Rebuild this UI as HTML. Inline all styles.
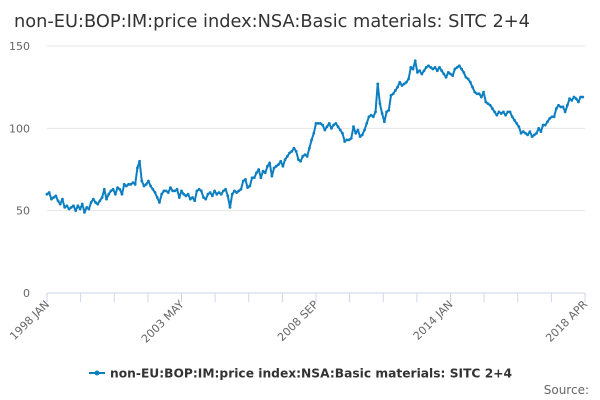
<!DOCTYPE html>
<html><head><meta charset="utf-8"><style>
body{margin:0;background:#fff;font-family:"DejaVu Sans","Liberation Sans",sans-serif}
svg{display:block;font-family:"DejaVu Sans","Liberation Sans",sans-serif}
</style></head><body>
<svg width="600" height="400" id="c">
<text x="14" y="27" font-size="18" fill="#333" textLength="516" lengthAdjust="spacingAndGlyphs">non-EU:BOP:IM:price index:NSA:Basic materials: SITC 2+4</text>
<g id="grid"></g>
<g id="plot"></g>
<g>
<line x1="89" y1="373" x2="105" y2="373" stroke="#0c7fc1" stroke-width="2"/>
<circle cx="97" cy="373" r="2.5" fill="#0c7fc1"/>
<text x="110" y="377.5" font-size="12" font-weight="bold" fill="#333" textLength="402" lengthAdjust="spacingAndGlyphs">non-EU:BOP:IM:price index:NSA:Basic materials: SITC 2+4</text>
</g>
<text x="589" y="394" font-size="12" fill="#666" text-anchor="end">Source:</text>
</svg>
<script>
const values=[60,61,57,58,59,56,54,57,52,53,51,52,
53,50,53,51,54,49,52,51,55,57,55,54,
56,58,63,57,60,62,63,60,64,63,60,66,
65,66,66,67,66,76,80,68,65,66,68,65,
63,61,58,55,60,62,62,61,64,62,62,63,
58,62,60,59,60,57,58,56,62,63,62,58,
57,60,61,59,62,60,61,60,62,63,59,52,
60,62,61,62,63,68,69,64,65,70,70,73,
75,70,74,73,77,79,71,76,77,78,80,77,
81,83,85,86,88,86,81,80,83,84,83,88,
93,97,103,103,103,102,99,101,103,100,102,103,
101,99,97,92,93,93,94,101,97,99,95,96,
99,103,107,108,107,110,127,115,109,104,110,111,
120,121,123,125,128,126,127,128,130,137,136,141,
134,135,133,135,137,138,137,136,137,135,137,135,
133,131,134,133,132,136,137,138,136,134,131,130,
128,125,122,121,121,119,122,116,115,114,112,110,
108,110,109,110,108,110,110,107,105,103,101,97,
98,97,96,98,95,96,97,100,98,102,102,104,
106,107,107,112,114,113,113,110,114,118,117,119,
118,116,119,119];
const yTicks=[0,50,100,150];
const xTickLabels=["1998 JAN","2003 MAY","2008 SEP","2014 JAN","2018 APR"];
const NS="http://www.w3.org/2000/svg";
const x0=47,x1=585,y0=293,yTop=46;
const span=values.length;
const xs=i=>x0+i*(x1-x0)/span;
const ys=v=>y0-v*(y0-yTop)/150;
const grid=document.getElementById('grid'),plot=document.getElementById('plot');
function mk(t,a,p){const e=document.createElementNS(NS,t);for(const k in a)e.setAttribute(k,a[k]);p.appendChild(e);return e;}
yTicks.forEach(v=>{
 const l=mk('line',{x1:x0,x2:x1,y1:ys(v),y2:ys(v),stroke:v===0?'#ccd6eb':'#e6e6e6'},grid);
 
 
 const t=mk('text',{x:30,y:ys(v)+4,'font-size':11,fill:'#666','text-anchor':'end'},grid);
 t.textContent=v;
 
 
});
for(let k=0;k<=16;k++){
 const x=xs(k*span/16);
 const tk=mk('line',{x1:x,x2:x,y1:y0,y2:y0+9,stroke:'#ccd6eb'},grid);
 
 
 if(k%4===0){
  const t=mk('text',{x:x+3,y:y0+12,'font-size':11,fill:'#666','text-anchor':'end',transform:`rotate(-45 ${x+3} ${y0+12})`},grid);
  t.textContent=xTickLabels[k/4];
  
  
 }
}
const pts=values.map((v,i)=>xs(i).toFixed(1)+','+ys(v).toFixed(1)).join(' ');
const line=mk('polyline',{points:pts,fill:'none',stroke:'#0c7fc1','stroke-width':2,'stroke-linejoin':'round'},plot);


values.forEach((v,i)=>{
 const c=mk('circle',{cx:xs(i),cy:ys(v),r:1.4,fill:'#0c7fc1'},plot);
 
 
});
</script>
</body></html>
